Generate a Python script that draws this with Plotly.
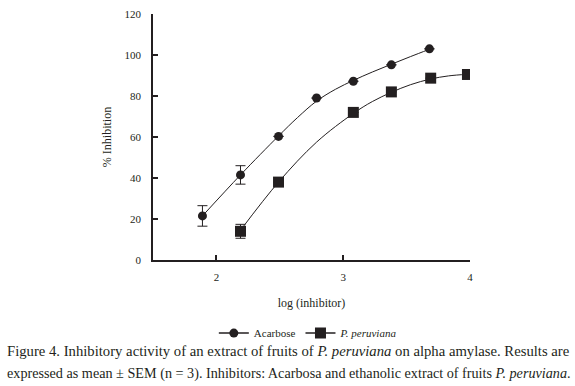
import plotly.graph_objects as go

# ---- Data ----
# Measured points
acarbose_x = [1.89, 2.19, 2.49, 2.79, 3.08, 3.38, 3.68]
acarbose_y = [21.5, 41.5, 60.3, 79.0, 87.2, 95.2, 103.0]
acarbose_err = [5.0, 4.5, 0, 0, 0, 0, 0]

peru_x = [2.19, 2.49, 3.08, 3.38, 3.69, 3.98]
peru_y = [14.0, 38.0, 72.0, 82.0, 88.7, 90.5]
peru_err = [3.4, 0, 0, 0, 0, 0]

# Fitted curves
acarbose_fit_x = [1.89, 2.19, 2.49, 2.64, 2.79, 2.94, 3.08, 3.23, 3.38, 3.53, 3.68]
acarbose_fit_y = [21.5, 41.5, 60.5, 69.5, 77.5, 83.3, 87.6, 91.7, 95.5, 99.2, 102.8]
peru_fit_x = [2.19, 2.49, 2.79, 3.08, 3.23, 3.38, 3.53, 3.69, 3.83, 3.98]
peru_fit_y = [14.5, 38.0, 57.5, 71.5, 77.3, 81.8, 85.5, 88.3, 89.8, 90.6]

x_ticks = [2, 3, 4]
y_ticks = [0, 20, 40, 60, 80, 100, 120]

INK = "#231f20"
SERIF = "Liberation Serif"

fig = go.Figure()


def add_series(name, xs, ys, errs, fx, fy, symbol, size):
    # fitted curve
    fig.add_trace(go.Scatter(
        x=fx, y=fy, mode="lines", showlegend=False, hoverinfo="skip",
        line=dict(color=INK, width=1, shape="spline", smoothing=1.0),
    ))
    # measured points with SEM error bars
    fig.add_trace(go.Scatter(
        x=xs, y=ys, mode="markers", showlegend=False,
        marker=dict(symbol=symbol, size=size, color=INK),
        error_y=dict(type="data", array=errs, color=INK, thickness=1, width=5,
                     visible=True),
    ))
    # legend entry
    fig.add_trace(go.Scatter(
        x=[None], y=[None], mode="lines+markers", name=name,
        line=dict(color=INK, width=1.5),
        marker=dict(symbol=symbol, size=size, color=INK),
    ))


add_series("Acarbose", acarbose_x, acarbose_y, acarbose_err,
           acarbose_fit_x, acarbose_fit_y, "circle", 9)
add_series("<i>P. peruviana</i>", peru_x, peru_y, peru_err,
           peru_fit_x, peru_fit_y, "square", 11)

fig.update_layout(
    width=575, height=386,
    margin=dict(l=153, r=105, t=14, b=126),
    paper_bgcolor="white", plot_bgcolor="white",
    font=dict(family=SERIF, color=INK, size=11),
    showlegend=True,
    legend=dict(orientation="h", x=0.49, xanchor="center", y=-0.297, yanchor="middle",
                itemwidth=30,
                font=dict(size=11, family=SERIF, color=INK), bgcolor="rgba(0,0,0,0)"),
    xaxis=dict(range=[1.5, 4], tickvals=x_ticks, ticks="inside", ticklen=5, tickwidth=1.5,
               tickcolor=INK, showline=True, linecolor=INK, linewidth=1.6, showgrid=False,
               zeroline=False, tickfont=dict(size=11, family=SERIF, color=INK),
               ticklabelstandoff=6, automargin=False,
               title=dict(text="log (inhibitor)",
                          font=dict(size=12, family=SERIF, color=INK), standoff=17)),
    yaxis=dict(range=[0, 120], tickvals=y_ticks, ticks="inside", ticklen=5, tickwidth=1.5,
               tickcolor=INK, showline=True, linecolor=INK, linewidth=1.6, showgrid=False,
               zeroline=False, tickfont=dict(size=11, family=SERIF, color=INK),
               ticklabelstandoff=8, automargin=False,
               title=dict(text="% Inhibition",
                          font=dict(size=12, family=SERIF, color=INK), standoff=10)),
)

caption1 = ("Figure 4. Inhibitory activity of an extract of fruits of <i>P. peruviana</i> "
            "on alpha amylase. Results are")
caption2 = ("expressed as mean ± SEM (n = 3). Inhibitors: Acarbosa and ethanolic extract "
            "of fruits <i>P. peruviana</i>.")
for txt, ypx, fs in [(caption1, 351, 14.7), (caption2, 373, 14.2)]:
    fig.add_annotation(text=txt, xref="paper", yref="paper",
                       x=(5 - 153) / 317, xanchor="left",
                       y=(260 - ypx) / 246, yanchor="middle",
                       showarrow=False, font=dict(size=fs, family=SERIF, color=INK))

fig.write_html("out.html", config={"displayModeBar": False},
               post_script="document.body.style.margin='0';document.body.style.overflow='hidden';")
